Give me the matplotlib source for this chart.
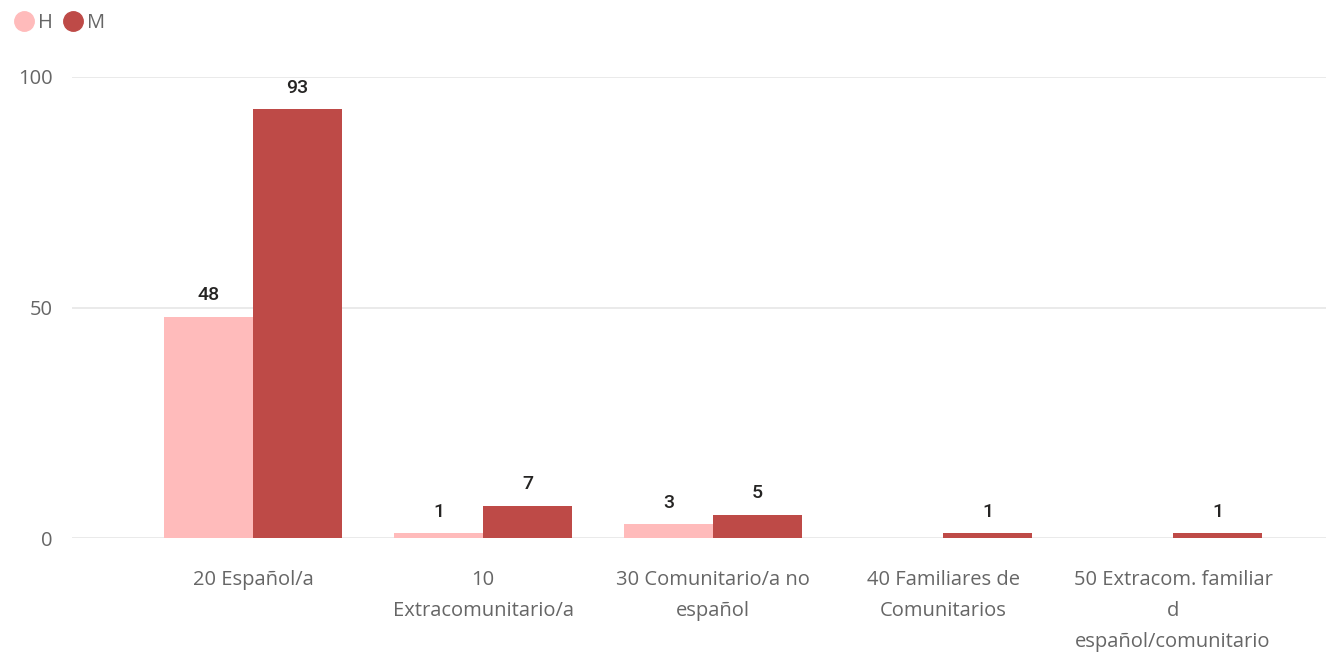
import numpy as np
import matplotlib
matplotlib.use("Agg")
import matplotlib.pyplot as plt
from matplotlib.lines import Line2D

categories = ["20 Español/a", "10\nExtracomunitario/a", "30 Comunitario/a no\nespañol",
              "40 Familiares de\nComunitarios", "50 Extracom. familiar\nd\nespañol/comunitario"]
h_vals = [48, 1, 3, 0, 0]
m_vals = [93, 7, 5, 1, 1]
series = ["H", "M"]
colors = ["#FFBBBB", "#BE4A47"]
yticks = [0, 50, 100]

plt.rcParams['font.family'] = ['Open Sans', 'DejaVu Sans']

fig = plt.figure(figsize=(13.26, 6.56), dpi=100)
ax = fig.add_axes([72 / 1326, 118 / 656, 1 - 72 / 1326, 461 / 656])

x = np.arange(len(categories))
w = 0.387
for vals, off, c in [(h_vals, -w / 2, colors[0]), (m_vals, w / 2, colors[1])]:
    bars = ax.bar(x + off, vals, width=w, color=c, zorder=3)
    for b, v in zip(bars, vals):
        if v == 0:
            continue
        # value label above each bar
        ax.annotate(str(v), (b.get_x() + b.get_width() / 2, v), xytext=(0, 9),
                    textcoords="offset points", ha="center", va="bottom",
                    fontsize=14, color="#252423", fontfamily=["Roboto", "DejaVu Sans"],
                    fontweight="medium")

ax.set_xlim(-0.787, 4.665)
ax.set_ylim(0, 100)
ax.set_yticks(yticks)
ax.set_xticks(x)
ax.set_xticklabels(categories, linespacing=1.73, va="top")
ax.tick_params(axis="both", length=0, labelsize=14.5, labelcolor="#666666")
ax.tick_params(axis="x", pad=23)
ax.tick_params(axis="y", pad=14)
ax.grid(axis="y", color="#E6E6E6", linewidth=1.2, zorder=0)
for s in ax.spines.values():
    s.set_visible(False)

handles = [Line2D([], [], marker="o", linestyle="", markersize=14, color=c) for c in colors]
fig.legend(handles, series, loc="upper left", bbox_to_anchor=(0.0, 1.0 + 1 / 656), ncol=2,
           frameon=False, handlelength=1.0, handletextpad=0.2, columnspacing=0.5,
           fontsize=14.5, labelcolor="#666666", borderaxespad=0, borderpad=0.7)

fig.savefig("out.png", dpi=100)
